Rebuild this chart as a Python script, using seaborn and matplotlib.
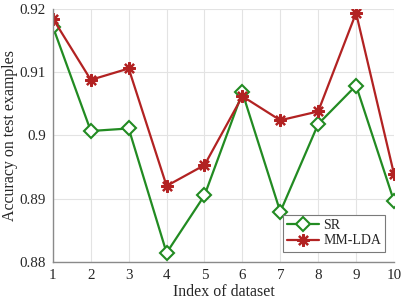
import matplotlib
matplotlib.use("Agg")
import matplotlib.pyplot as plt
import seaborn as sns
import pandas as pd

dataset_index = [1, 2, 3, 4, 5, 6, 7, 8, 9, 10]
sr_acc = [0.9172, 0.9007, 0.9011, 0.8814, 0.8905, 0.9068, 0.8879, 0.9018, 0.9079, 0.8896]
mmlda_acc = [0.9185, 0.9088, 0.9106, 0.8920, 0.8953, 0.9062, 0.9024, 0.9038, 0.9194, 0.8939]
y_ticks = [0.88, 0.89, 0.90, 0.91, 0.92]
y_tick_labels = ["0.88", "0.89", "0.9", "0.91", "0.92"]

sns.set_theme(style="whitegrid")
plt.rcParams['font.family'] = ['Liberation Serif', 'DejaVu Serif']
plt.rcParams['mathtext.fontset'] = 'stix'

fig = plt.figure(figsize=(4.07, 3.05), dpi=100)
ax = fig.add_axes([0.130, 0.142, 0.838, 0.828])

df_sr = pd.DataFrame({"x": dataset_index, "y": sr_acc})
df_mm = pd.DataFrame({"x": dataset_index, "y": mmlda_acc})

sns.lineplot(data=df_sr, x="x", y="y", ax=ax, color="#228B22", lw=1.6,
             marker="D", markersize=7, markerfacecolor="white",
             markeredgecolor="#228B22", markeredgewidth=1.5, label="SR")
sns.lineplot(data=df_mm, x="x", y="y", ax=ax, color="#B22222", lw=1.6,
             marker=(8, 2, 0), markersize=9, markeredgecolor="#B22222",
             markeredgewidth=1.6, label="MM-LDA")

ax.set_xlim(1, 10)
ax.set_ylim(0.88, 0.92)
ax.set_xticks(dataset_index)
ax.set_yticks(y_ticks)
ax.set_yticklabels(y_tick_labels)
ax.set_xlabel("Index of dataset", fontsize=11.4, color="#262626", labelpad=2)
ax.set_ylabel("Accuracy on test examples", fontsize=11.4, color="#262626", labelpad=1)
ax.tick_params(axis="both", labelsize=10.8, labelcolor="#262626", colors="#808080",
               direction="in", length=3, width=0.8)
ax.tick_params(axis="x", pad=5)
ax.tick_params(axis="y", pad=5)

ax.grid(True, color="#e3e3e3", lw=0.8)
ax.set_facecolor("white")
for side in ["top", "right"]:
    ax.spines[side].set_visible(False)
for side in ["left", "bottom"]:
    ax.spines[side].set_color("#8a8a8a")
    ax.spines[side].set_linewidth(1.0)

leg = ax.legend(loc="lower right", fontsize=10, frameon=True, fancybox=False,
                edgecolor="#7a7a7a", framealpha=1, borderpad=0.3,
                handlelength=2.3, handletextpad=0.3, labelspacing=0.15,
                borderaxespad=0.0, bbox_to_anchor=(0.974, 0.04))
leg.get_frame().set_linewidth(0.8)

fig.savefig("out.png", dpi=100)
